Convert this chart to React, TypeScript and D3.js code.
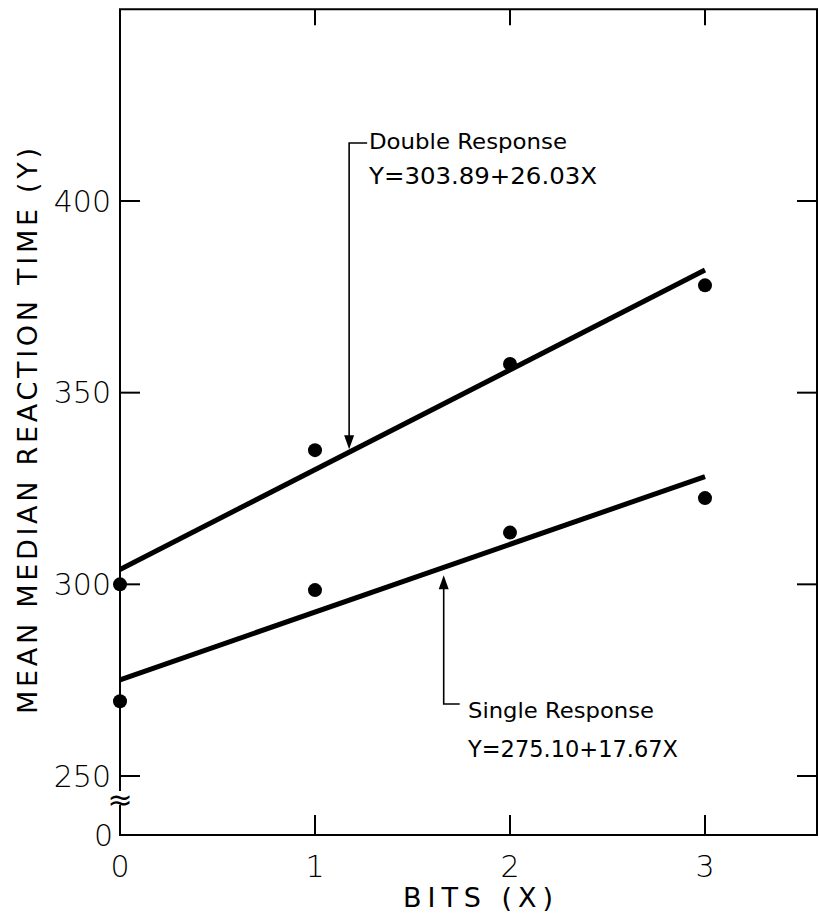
import React from "react";
import * as d3 from "d3";

// ---- data ----
const bits = [0, 1, 2, 3];
const doubleRT = [300, 335, 357.5, 378];
const singleRT = [269.5, 298.5, 313.5, 322.5];
const fitIntercepts = [303.89, 275.1];
const fitSlopes = [26.03, 17.67];
const seriesNames = ["Double Response", "Single Response"];
const equations = ["Y=303.89+26.03X", "Y=275.10+17.67X"];
const yTicks = [250, 300, 350, 400];
const xTicks = [0, 1, 2, 3];
const yTitle = "MEAN MEDIAN REACTION TIME  (Y)";
const xTitle = "BITS  (X)";

const W = 819;
const H = 917;
const FONT = "'DejaVu Sans', sans-serif";

export default function App() {
  const x = d3.scaleLinear().domain([0, 3]).range([120, 705]);
  const y = d3.scaleLinear().domain([250, 400]).range([776, 201]);
  const left = x(0);
  const right = 817;
  const top = y(450);
  const bottom = y(250) + 59;
  const tickLen = 20;

  const fitLine = (i: number) =>
    d3.line<number>().x((v) => x(v)).y((v) => y(fitIntercepts[i] + fitSlopes[i] * v))([0, 3]) || "";

  // annotation anchors (in data x)
  const dAx = 1.175;
  const sAx = 1.66;
  const dTip = y(fitIntercepts[0] + fitSlopes[0] * dAx) - 3;
  const sTip = y(fitIntercepts[1] + fitSlopes[1] * sAx) + 8;

  const arrowHead = (px: number, py: number, dir: number) =>
    `M${px},${py} L${px - 5},${py - dir * 14} L${px + 5},${py - dir * 14} Z`;

  return (
    <svg
      width={W}
      height={H}
      style={{ position: "absolute", left: 0, top: 0, background: "#fff" }}
      fontFamily={FONT}
    >
      <rect width={W} height={H} fill="#fff" />
      {/* frame */}
      <path
        d={`M${left},${bottom} L${left},${top} L${right},${top} L${right},${bottom} Z`}
        fill="none"
        stroke="#000"
        strokeWidth={2}
      />
      {/* y ticks left and right */}
      {yTicks.map((t) => (
        <g key={"y" + t}>
          <line x1={left} x2={left + tickLen} y1={y(t)} y2={y(t)} stroke="#000" strokeWidth={2} />
          <line x1={right} x2={right - tickLen} y1={y(t)} y2={y(t)} stroke="#000" strokeWidth={2} />
          <text x={111} y={y(t)} dy="0.36em" textAnchor="end" fontSize={30} fontWeight={300}>
            {t}
          </text>
        </g>
      ))}
      {/* y break */}
      <rect x={left - 6} y={bottom - 44} width={12} height={14} fill="#fff" />
      <text x={left} y={bottom - 36} dy="0.36em" textAnchor="middle" fontSize={30}>
        ≈
      </text>
      <text x={113} y={bottom} dy="0.36em" textAnchor="end" fontSize={30} fontWeight={300}>
        0
      </text>
      {/* x ticks bottom and top */}
      {xTicks.map((t) => (
        <g key={"x" + t}>
          {t > 0 && (
            <>
              <line x1={x(t)} x2={x(t)} y1={bottom} y2={bottom - tickLen} stroke="#000" strokeWidth={2} />
              <line x1={x(t)} x2={x(t)} y1={top} y2={top + 16} stroke="#000" strokeWidth={2} />
            </>
          )}
          <text x={x(t)} y={877} textAnchor="middle" fontSize={30} fontWeight={300}>
            {t}
          </text>
        </g>
      ))}
      {/* fitted lines */}
      {[0, 1].map((i) => (
        <path key={"fit" + i} d={fitLine(i)} fill="none" stroke="#000" strokeWidth={5} />
      ))}
      {/* points */}
      {bits.map((b, i) => (
        <g key={"p" + i}>
          <circle cx={x(b)} cy={y(doubleRT[i])} r={7} fill="#000" />
          <circle cx={x(b)} cy={y(singleRT[i])} r={7} fill="#000" />
        </g>
      ))}
      {/* double annotation */}
      <path
        d={`M${x(dAx) + 18},143 L${x(dAx)},143 L${x(dAx)},${dTip - 12}`}
        fill="none"
        stroke="#000"
        strokeWidth={1.6}
      />
      <path d={arrowHead(x(dAx), dTip, 1)} fill="#000" />
      <text x={369} y={149} fontSize={22} textLength={198} lengthAdjust="spacingAndGlyphs">
        {seriesNames[0]}
      </text>
      <text x={369} y={184} fontSize={23} textLength={228} lengthAdjust="spacingAndGlyphs">
        {equations[0]}
      </text>
      {/* single annotation */}
      <path
        d={`M${x(sAx)},${sTip + 12} L${x(sAx)},704 L${x(sAx) + 16},704`}
        fill="none"
        stroke="#000"
        strokeWidth={1.6}
      />
      <path d={arrowHead(x(sAx), sTip, -1)} fill="#000" />
      <text x={468} y={718} fontSize={22} textLength={186} lengthAdjust="spacingAndGlyphs">
        {seriesNames[1]}
      </text>
      <text x={468} y={757} fontSize={23} textLength={210} lengthAdjust="spacingAndGlyphs">
        {equations[1]}
      </text>
      {/* axis titles */}
      <text x={478} y={907} textAnchor="middle" fontSize={27} textLength={150} lengthAdjust="spacing">
        {xTitle}
      </text>
      <text
        transform={`translate(37,${431}) rotate(-90)`}
        textAnchor="middle"
        fontSize={27}
        textLength={566}
        lengthAdjust="spacing"
      >
        {yTitle}
      </text>
    </svg>
  );
}
